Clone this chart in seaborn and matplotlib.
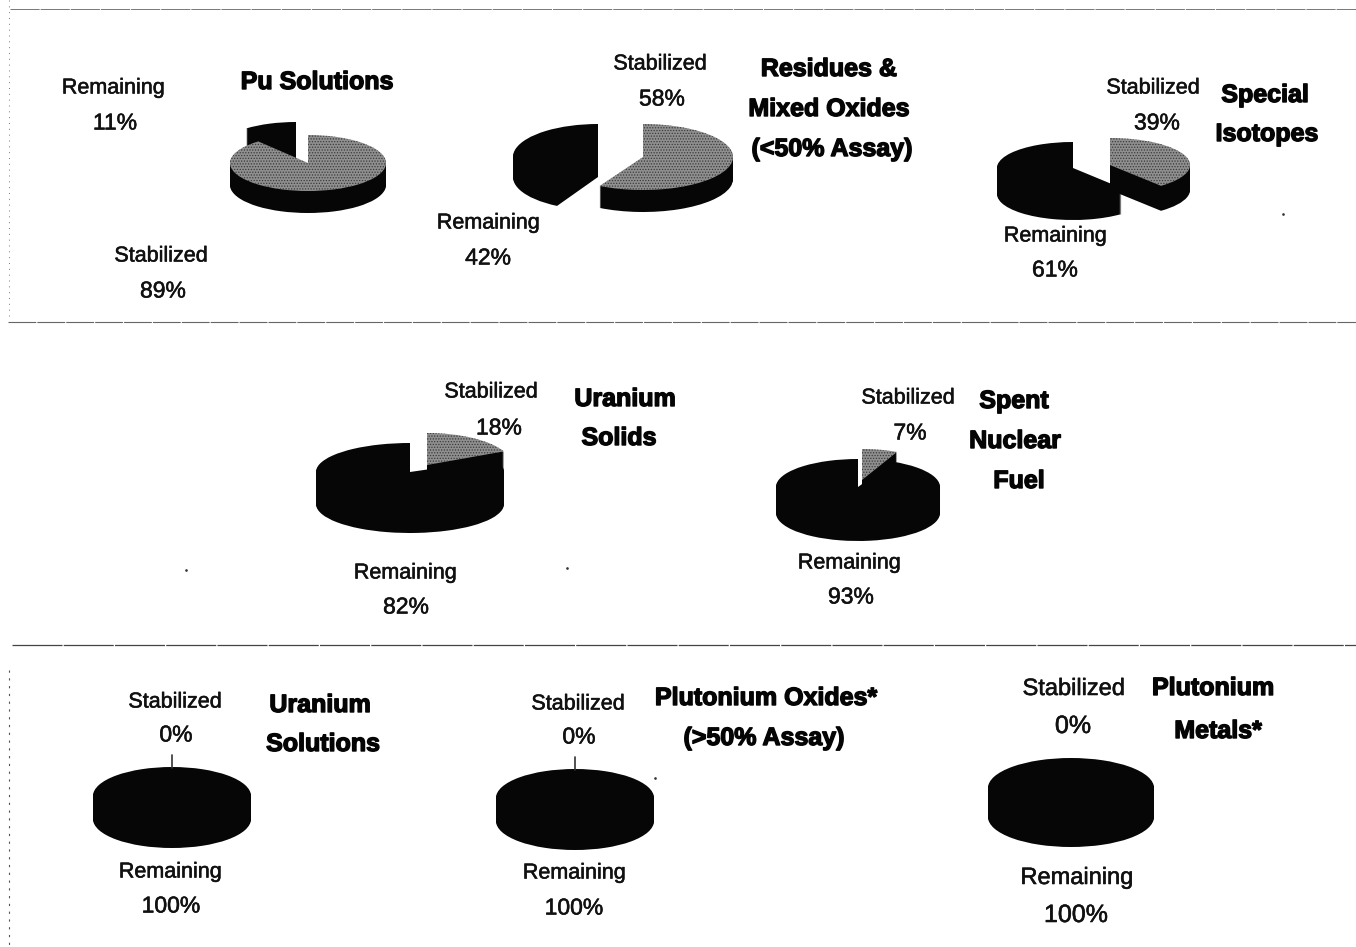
"""
Stabilization progress by material type, redrawn as squashed 3D style pies.
"""

import matplotlib
matplotlib.use("Agg")
import matplotlib.patheffects as pe
import matplotlib.pyplot as plt
import seaborn as sns

W, H = 1356, 947

# Data
stabilized = [89, 58, 39, 18, 7, 0, 0, 0]
remaining = [11, 42, 61, 82, 93, 100, 100, 100]
titles = [
    ["Pu Solutions"],
    ["Residues &", "Mixed Oxides", "(<50% Assay)"],
    ["Special", "Isotopes"],
    ["Uranium", "Solids"],
    ["Spent", "Nuclear", "Fuel"],
    ["Uranium", "Solutions"],
    ["Plutonium Oxides*", "(>50% Assay)"],
    ["Plutonium", "Metals*"],
]

# Layout, in picture pixels
# slice ellipse: apex x, apex y, radius x, radius y, depth
stab_geom = [
    (308, 163, 78, 28, 22),
    (643, 157, 90, 33, 22),
    (1110, 165, 80, 27, 25),
    (427, 465, 85, 32, 33),
    (862, 480, 82, 31, 10),
    (172, 796, 79, 29, 23),
    (575, 798, 79, 29, 23),
    (1071, 788, 83, 30, 29),
]
rem_geom = [
    (296, 150, 78, 28, 22),
    (598, 157, 85, 33, 20),
    (1073, 168, 76, 26, 26),
    (410, 472, 94, 29, 32),
    (858, 487, 82, 28, 26),
    (172, 796, 79, 29, 23),
    (575, 798, 79, 29, 23),
    (1071, 788, 83, 30, 29),
]
# text centres: word, percent for each slice label
stab_text = [
    ((161, 256), (163, 291)),
    ((660, 64), (662, 99)),
    ((1153, 88), (1157, 123)),
    ((491, 392), (499, 428)),
    ((908, 398), (910, 433)),
    ((175, 702), (176, 735)),
    ((578, 704), (579, 737)),
    ((1074, 689), (1073, 726)),
]
rem_text = [
    ((113, 88), (115, 123)),
    ((488, 223), (488, 258)),
    ((1055, 236), (1055, 270)),
    ((405, 573), (406, 607)),
    ((849, 563), (851, 597)),
    ((170, 872), (171, 906)),
    ((574, 873), (574, 908)),
    ((1077, 878), (1076, 915)),
]
title_pos = [
    [(317, 82)],
    [(829, 69), (829, 109), (832, 149)],
    [(1265, 95), (1267, 134)],
    [(625, 399), (619, 438)],
    [(1014, 401), (1015, 441), (1019, 481)],
    [(320, 705), (323, 744)],
    [(766, 698), (764, 738)],
    [(1213, 688), (1218, 731)],
]
label_size = [15.5, 15.5, 15.5, 15.5, 15.5, 15.5, 15.5, 17]

DARK = "#060606"
GREY = "#8f8f8f"

sns.set_theme(style="white")
plt.rcParams["font.family"] = ["Liberation Sans", "DejaVu Sans"]
plt.rcParams["hatch.linewidth"] = 0.6

fig = plt.figure(figsize=(W / 100, H / 100), dpi=100, facecolor="white")


def draw_slice(value, start, top_color, geom):
    """One pie slice with its side wall, in a full figure axes scaled to its ellipse."""
    cx, cy, rx, ry, depth = geom
    ax = fig.add_axes([0, 0, 1, 1], facecolor="none")
    flat = {"linewidth": 0, "edgecolor": "none"}
    for k in range(depth, 0, -1):
        ax.pie([value, 100 - value], startangle=start, counterclock=False,
               colors=[DARK, "none"], center=(0, -k / ry), radius=1, wedgeprops=flat)
    wedges, _ = ax.pie([value, 100 - value], startangle=start, counterclock=False,
                       colors=[top_color, "none"], radius=1, wedgeprops=flat)
    if top_color == GREY:
        wedges[0].set_hatch("......")
        wedges[0].set_edgecolor("#3a3a3a")
    ax.set_aspect("auto")
    ax.set_xlim(-cx / rx, (W - cx) / rx)
    ax.set_ylim(-(H - cy) / ry, cy / ry)
    ax.set_axis_off()


# Far slices first so the nearer ones sit on top of them
slices = []
for i in range(len(stabilized)):
    start_rem = 90 - stabilized[i] * 3.6
    if stabilized[i] > 0:
        slices.append((stabilized[i], 90, GREY, stab_geom[i]))
    slices.append((remaining[i], start_rem, DARK, rem_geom[i]))
slices.sort(key=lambda s: s[3][1] - s[3][3])
for value, start, color, geom in slices:
    draw_slice(value, start, color, geom)

# Overlay in pixel coordinates for the text and scan lines
over = fig.add_axes([0, 0, 1, 1], facecolor="none")
over.set_xlim(0, W)
over.set_ylim(H, 0)
over.set_axis_off()

thin = [pe.withStroke(linewidth=0.4, foreground="#111111")]
thick = [pe.withStroke(linewidth=1.0, foreground="#050505")]
for i in range(len(stabilized)):
    for word, value, pos in (("Stabilized", stabilized[i], stab_text[i]),
                             ("Remaining", remaining[i], rem_text[i])):
        over.text(pos[0][0], pos[0][1], word, fontsize=label_size[i], ha="center",
                  va="center", color="#111111", path_effects=thin)
        over.text(pos[1][0], pos[1][1], f"{value}%", fontsize=label_size[i] + 1, ha="center",
                  va="center", color="#111111", path_effects=thin)
    for line, pos in zip(titles[i], title_pos[i]):
        over.text(pos[0], pos[1], line, fontsize=18, fontweight="bold", ha="center",
                  va="center", color="#050505", path_effects=thick)

# Rules between the rows, rough like the scan
over.plot([10, 1356], [9, 9], color="#777777", lw=0.7, ls=(0, (30, 1)))
over.plot([8, 1356], [322, 322], color="#666666", lw=0.8, ls=(0, (25, 1)))
over.plot([12, 1356], [645, 645], color="#444444", lw=0.9, ls=(0, (40, 1)))
over.plot([9, 9], [0, 320], color="#777777", lw=0.7, ls=(0, (1, 5)))
over.plot([9, 9], [670, 947], color="#555555", lw=0.8, ls=(0, (2, 5)))

# Small ticks above the two zero slices
over.plot([172, 172], [755, 768], color="#333333", lw=1.2)
over.plot([575, 575], [757, 770], color="#333333", lw=1.2)

# Specks on the page
over.plot([1283, 655, 186, 567], [214, 778, 570, 568], ls="none", marker=".",
          ms=1.8, color="#333333")

fig.savefig("out.png", dpi=100, facecolor="white")
plt.close(fig)
